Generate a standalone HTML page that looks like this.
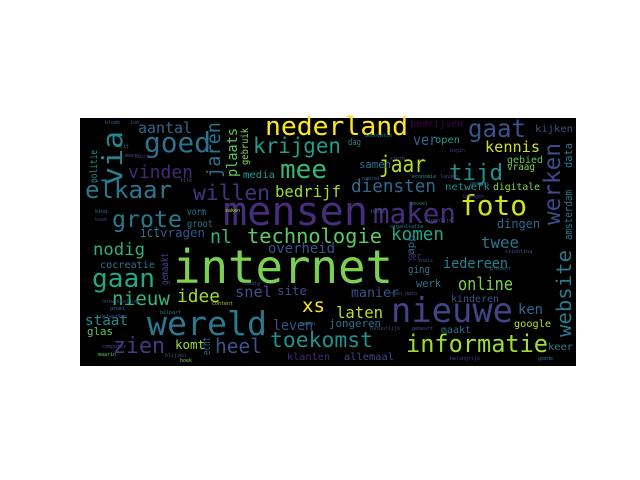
<!DOCTYPE html>
<html><head><meta charset="utf-8"><style>
html,body{margin:0;padding:0;background:#fff;width:640px;height:480px;overflow:hidden}
svg{display:block}
text{font-family:"DejaVu Sans Mono","Liberation Mono",monospace}
</style></head><body>
<svg id="cloud" width="640" height="480" viewBox="0 0 640 480">
<rect x="80" y="118" width="496" height="248" fill="#000"/>
<g id="words"></g>
</svg>
<script>
// word, font size, left x, baseline y, width, color, vertical
const words = ["internet","mensen","wereld","nieuwe","nederland","gaat","via","goed","aantal","jaren","plaats","gebruik","politie","krijgen","mee","jaar","tijd","werken","data","amsterdam","elkaar","vinden","willen","bedrijf","diensten","foto","maken","grote","nl","technologie","komen","twee","nodig","overheid","gaan","iedereen","online","website","nieuw","idee","snel","xs","manier","laten","ken","staat","leven","zien","heel","toekomst","informatie","jongeren","google","maakt","keer","allemaal","klanten","kennis","bedrijven","kijken","ver","open","dag","samen","gebied","vraag","netwerk","digitale","dingen","ict","vragen","vorm","groot","media","gemaakt","cocreatie","site","echt","komt","glas","per","ging","werk","kinderen","app"];
const sizes = [46,40,33,34,26,25,28,28,15,19,14,10,10,21,26,23,22,23,11,11,24,18,21,16,18,28,28,23,19,20,18,16,17,14,26,14,18,20,19,18,15,19,13,16,14,14,14,22,20,21,24,11,10,10,10,10,10,15,10,10,15,10,9,11,10,10,10,10,12,14,12,10,10,10,10,10,12,11,12,11,11,11,11,10,10];
const xs = [173,223,147,391,265,468,122,144,138,220,237,248,97,253,280,379,449,560,572,572,85,128,193,275,351,460,373,112,210,247,391,481,93,268,92,443,458,571,112,177,235,302,351,336,518,85,273,113,215,270,406,329,514,441,548,344,287,485,410,535,413,435,348,359,507,507,445,493,497,140,160,187,187,243,168,100,277,210,175,87,408,408,416,451,414];
const ys = [283,225,335,322,135,137,185,152,133,178,177,165,183,153,178,172,180,225,168,240,198,178,200,197,192,215,223,227,243,243,240,248,255,253,287,268,290,337,305,302,297,312,297,318,314,325,330,353,353,347,352,327,327,333,350,360,360,152,127,132,145,143,145,168,163,170,190,190,228,237,237,215,227,178,285,268,295,355,349,335,260,273,287,302,255];
const widths = [220,145,120,122,143,58,54,67,54,56,49,37,33,88,47,47,54,82,25,50,87,65,77,66,85,67,83,70,22,135,53,38,52,67,63,65,55,87,58,43,37,23,48,47,25,43,40,52,47,103,142,52,37,30,25,50,43,55,53,38,24,25,13,32,36,28,45,47,43,20,45,19,26,32,32,55,30,18,30,26,13,22,25,48,20];
const colors = ["#7ad151","#472d7b","#2a788e","#414487","#fde725","#3b528b","#25858e","#2c728e","#31688e","#2c728e","#5ec962","#86d549","#21918c","#1f9e89","#35b779","#b5de2b","#21918c","#3e4a89","#2a788e","#2a788e","#2a788e","#482878","#46337e","#a0da39","#31688e","#d2e21b","#472f7d","#2a788e","#35b779","#5ec962","#21a685","#2a788e","#2db27d","#3b528b","#22a884","#26828e","#7ad151","#2a788e","#35b779","#a5db36","#3b528b","#fde725","#3b528b","#bddf26","#31688e","#21918c","#3b528b","#443983","#3b528b","#21918c","#a0da39","#2c728e","#c2df23","#2c728e","#287c8e","#3e4a89","#482878","#d0e11c","#440154","#3b528b","#31688e","#20a386","#26828e","#2c728e","#5ec962","#84d44b","#21918c","#8fd744","#31688e","#2a788e","#3b528b","#2a788e","#2c728e","#1f9e89","#3e4a89","#2a788e","#3e4a89","#31688e","#a0da39","#5ec962","#472d7b","#2a788e","#2a788e","#3b528b","#31688e"];
const vertical = [0,0,0,0,0,0,1,0,0,1,1,1,1,0,0,0,0,1,1,1,0,0,0,0,0,0,0,0,0,0,0,0,0,0,0,0,0,1,0,0,0,0,0,0,0,0,0,0,0,0,0,0,0,0,0,0,0,0,0,0,0,0,0,0,0,0,0,0,0,0,0,0,0,0,1,0,0,1,0,0,0,0,0,0,1];
// tiny filler words
const tiny = ["bloek","ion","cit","meerv","succes","file","groei","ontwikkeling","innovatie","economie","overal","zaken","gevoel","kind","kaam","netwerken","open data","content","bilpart","computer","maarin","blijven","boek","landen","begin","brengen","organisatie","eigenlijk","natuurlijk","gebeurt","procent","zoals","belangrijk","goede","sterk","tools","stichting","gewoon","nodig","samen"];
const tinyX = [105,130,120,125,135,180,110,102,365,412,362,225,410,95,95,100,390,212,160,102,98,165,180,440,450,463,390,425,370,412,490,418,450,538,390,370,505,470,245,300];
const tinyY = [124,124,148,157,158,182,310,303,137,178,180,212,205,213,221,318,295,305,314,348,356,357,362,178,152,198,228,222,330,330,270,262,360,360,160,213,253,185,285,325];
const tinyC = ["#31688e","#3b528b","#2a788e","#3e4a89","#443983","#3b528b","#2c728e","#3b528b","#26828e","#21918c","#31688e","#b5de2b","#2a788e","#2a788e","#46337e","#3b528b","#3e4a89","#a0da39","#2c728e","#3e4a89","#5ec962","#3b528b","#6ece58","#3e4a89","#443983","#46337e","#2a788e","#3b528b","#3e4a89","#3b528b","#31688e","#3b528b","#443983","#2a788e","#3b528b","#2c728e","#3b528b","#31688e","#3b528b","#2a788e"];

const NS = "http://www.w3.org/2000/svg";
const g = document.getElementById("words");
for (let i = 0; i < words.length; i++) {
  const t = document.createElementNS(NS, "text");
  
  
  t.setAttribute("font-size", sizes[i]);
  t.setAttribute("fill", colors[i]);
  t.setAttribute("textLength", widths[i]);
  t.setAttribute("lengthAdjust", "spacingAndGlyphs");
  if (vertical[i]) {
    t.setAttribute("x", 0);
    t.setAttribute("y", 0);
    t.setAttribute("transform", "translate(" + xs[i] + "," + ys[i] + ") rotate(-90)");
  } else {
    t.setAttribute("x", xs[i]);
    t.setAttribute("y", ys[i]);
  }
  t.textContent = words[i];
  g.appendChild(t);
}
for (let i = 0; i < tiny.length; i++) {
  const t = document.createElementNS(NS, "text");
  
  
  t.setAttribute("font-size", 5);
  t.setAttribute("fill", tinyC[i]);
  t.setAttribute("x", tinyX[i]);
  t.setAttribute("y", tinyY[i]);
  t.textContent = tiny[i];
  g.appendChild(t);
}
</script>
</body></html>
